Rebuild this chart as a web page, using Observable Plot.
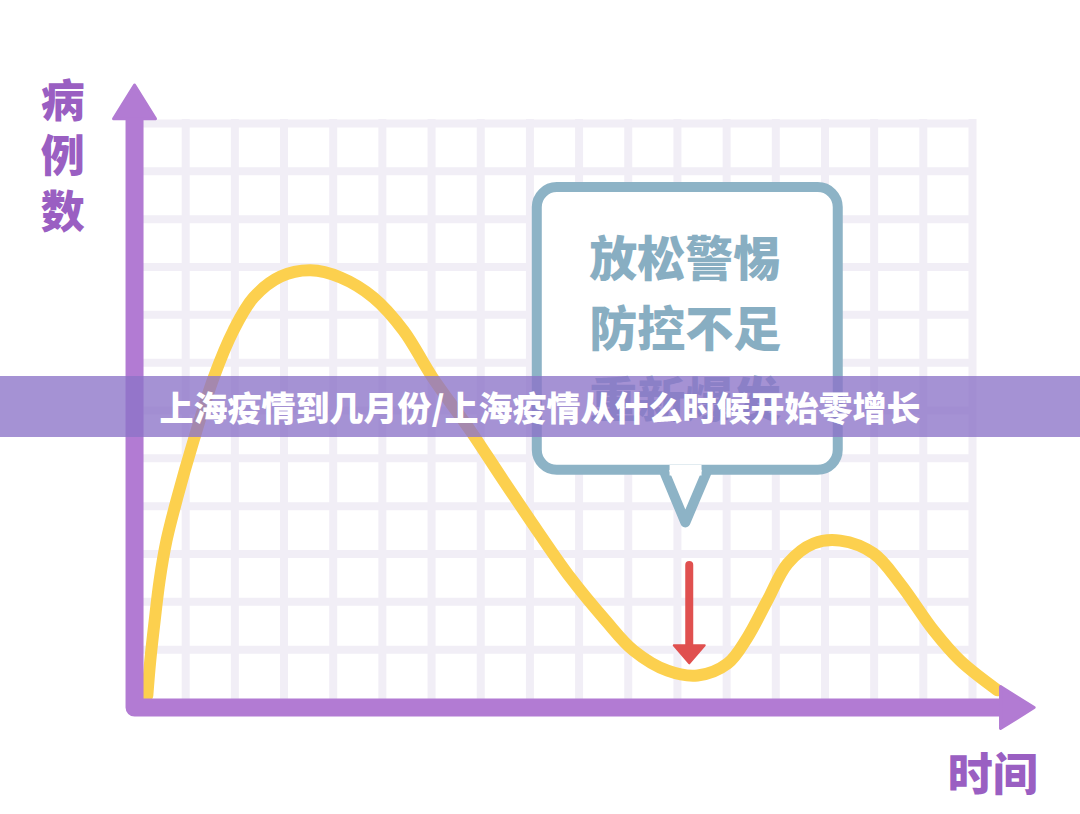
<!DOCTYPE html>
<html>
<head>
<meta charset="utf-8">
<script src="https://cdn.jsdelivr.net/npm/d3@7"></script>
<script src="https://cdn.jsdelivr.net/npm/@observablehq/plot@0.6"></script>
<style>
html, body { margin: 0; padding: 0; background: #fff; }
#wrap { position: relative; width: 1080px; height: 814px; overflow: hidden; font-family: "Noto Sans CJK SC", "Noto Sans", sans-serif; }
#banner { position: absolute; left: 0; top: 376px; width: 1080px; height: 61px; background: rgba(140,115,200,0.78); color: #fff; font-size: 34px; font-weight: 900; line-height: 61px; text-align: center; white-space: nowrap; }
</style>
</head>
<body>
<div id="wrap"><div id="chart"></div><div id="banner"></div></div>
<script>
// ---- data ----
const title = "上海疫情到几月份/上海疫情从什么时候开始零增长";
const yLabelChars = ["病", "例", "数"];
const xLabel = "时间";
const boxLines = ["放松警惕", "防控不足", "重新爆发"];

// curve (grid units: x 0..17 columns, y 0..12 rows)
const curveX = [0.22, 0.28, 0.37, 0.47, 0.61, 0.83, 1.16, 1.57, 1.97, 2.38, 2.93, 3.54, 4.15, 4.82, 5.43, 6.02, 6.79, 7.46, 8.15, 8.82, 9.54, 10.11, 10.80, 11.41, 12.02, 12.42, 12.83, 13.24, 13.77, 14.31, 14.99, 15.53, 16.21, 16.75, 17.51];
const curveY = [0.04, 0.77, 1.61, 2.45, 3.28, 4.18, 5.37, 6.69, 7.67, 8.36, 8.80, 8.93, 8.78, 8.36, 7.67, 6.69, 5.58, 4.54, 3.49, 2.51, 1.61, 0.98, 0.56, 0.46, 0.71, 1.25, 2.03, 2.80, 3.22, 3.28, 3.01, 2.38, 1.40, 0.77, 0.15];

const gridCols = [0, 1, 2, 3, 4, 5, 6, 7, 8, 9, 10, 11, 12, 13, 14, 15, 16, 17];
const gridRows = [1, 2, 3, 4, 5, 6, 7, 8, 9, 10, 11, 12];

// ---- annotation anchors (grid units) ----
const axisX0 = -0.04, axisY0 = -0.21;
const yArrowBase = 12.1, xArrowBase = 17.57;
const box = {x1: 8.15, x2: 14.27, y1: 4.75, y2: 10.66};
const tail = {bl: 10.72, tip: 11.16, br: 11.61, tipY: 3.66};
const boxTextX = 11.16, boxTextY0 = 9.14, boxTextStep = 1.48;
const redArrow = {x: 11.24, yTop: 2.76, yBase: 1.09};
const yLabelX = -1.5, yLabelY0 = 12.44, yLabelStep = 1.16;
const xLabelPos = {x: 17.41, y: -1.65};

// ---- styles ----
const purple = "#b27bd3", labelPurple = "#9a5fc2", gridColor = "#f1eef6";
const yellow = "#fcd04e", blue = "#8db3c6", textBlue = "#88aec2", red = "#e0504f";

function arrowHead(hr) {
  return {
    draw(ctx, size) {
      const r = Math.sqrt(size / Math.PI);
      ctx.moveTo(-r, 0);
      ctx.lineTo(0, -r * hr);
      ctx.lineTo(r, 0);
      ctx.closePath();
    }
  };
}

const curve = curveX.map((x, i) => ({x, y: curveY[i]}));
const axisPath = [
  {x: axisX0, y: yArrowBase},
  {x: axisX0, y: axisY0},
  {x: xArrowBase, y: axisY0}
];
const heads = [
  {x: axisX0, y: yArrowBase, rot: 0},
  {x: xArrowBase, y: axisY0, rot: 90}
];
const tailPath = [
  {x: tail.bl, y: box.y1},
  {x: tail.tip, y: tail.tipY},
  {x: tail.br, y: box.y1}
];
const erase = [
  {x: tail.bl + 0.12, y: box.y1},
  {x: tail.br - 0.12, y: box.y1}
];
const boxText = boxLines.map((t, i) => ({t, x: boxTextX, y: boxTextY0 - i * boxTextStep}));
const yLabelText = yLabelChars.map((t, i) => ({t, x: yLabelX, y: yLabelY0 - i * yLabelStep}));

const chart = Plot.plot({
  width: 1080,
  height: 814,
  marginLeft: 136,
  marginRight: 108,
  marginTop: 123,
  marginBottom: 117,
  x: {domain: [0, 17], axis: null},
  y: {domain: [0, 12], axis: null},
  style: {background: "#fff", fontFamily: "'Noto Sans CJK SC', sans-serif", overflow: "visible"},
  marks: [
    Plot.ruleX(gridCols, {x: d => d, y1: 0, y2: 12, stroke: gridColor, strokeWidth: 8, strokeLinecap: "square"}),
    Plot.ruleY(gridRows, {y: d => d, x1: 0, x2: 17, stroke: gridColor, strokeWidth: 8, strokeLinecap: "square"}),
    // callout
    Plot.rect([box], {x1: "x1", x2: "x2", y1: "y1", y2: "y2", fill: "#fff", stroke: blue, strokeWidth: 10, rx: 20}),
    Plot.line(tailPath, {x: "x", y: "y", fill: "#fff", stroke: blue, strokeWidth: 10, strokeLinejoin: "round", strokeLinecap: "round"}),
    Plot.line(erase, {x: "x", y: "y", stroke: "#fff", strokeWidth: 10.5, strokeLinecap: "butt"}),
    Plot.text(boxText, {x: "x", y: "y", text: "t", fill: textBlue, fontSize: 48, fontWeight: 900}),
    // curve
    Plot.line(curve, {x: "x", y: "y", curve: "catmull-rom", stroke: yellow, strokeWidth: 12, strokeLinecap: "round"}),
    // red arrow
    Plot.ruleX([redArrow], {x: "x", y1: "yBase", y2: "yTop", stroke: red, strokeWidth: 8, strokeLinecap: "round"}),
    Plot.dot([redArrow], {x: "x", y: "yBase", symbol: arrowHead(1.16), r: 15.5, rotate: 180, fill: red, stroke: red, strokeWidth: 2, strokeLinejoin: "round"}),
    // axes
    Plot.line(axisPath, {x: "x", y: "y", stroke: purple, strokeWidth: 18, strokeLinejoin: "round", strokeLinecap: "butt", curve: "linear"}),
    Plot.dot(heads, {x: "x", y: "y", rotate: "rot", symbol: arrowHead(1.6), r: 21, fill: purple, stroke: purple, strokeWidth: 3, strokeLinejoin: "round"}),
    // axis labels
    Plot.text(yLabelText, {x: "x", y: "y", text: "t", fill: labelPurple, fontSize: 44, fontWeight: 900}),
    Plot.text([xLabelPos], {x: "x", y: "y", text: () => xLabel, fill: labelPurple, fontSize: 45, fontWeight: 900})
  ]
});

document.getElementById("chart").appendChild(chart);
d3.select(chart).selectAll("g[aria-label=rect] rect").attr("rx", 20).attr("ry", 20);
document.getElementById("banner").textContent = title;
</script>
</body>
</html>
